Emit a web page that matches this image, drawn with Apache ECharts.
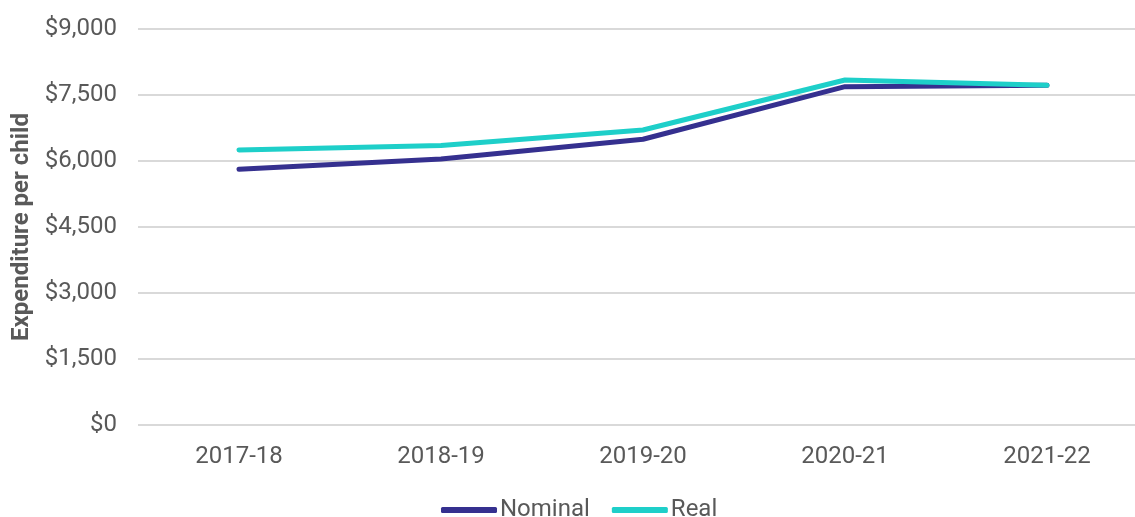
<!DOCTYPE html>
<html>
<head>
<meta charset="utf-8">
<script src="https://cdn.jsdelivr.net/npm/echarts@6/dist/echarts.min.js"></script>
<style>
  html, body { margin: 0; padding: 0; background: #fff; }
  #chart { width: 1135px; height: 517px; }
</style>
</head>
<body>
<div id="chart"></div>
<script>
// financial years on the x axis
const years = ['2017-18', '2018-19', '2019-20', '2020-21', '2021-22']
// expenditure per child
const nominal = [5810, 6045, 6495, 7690, 7720]
const real = [6250, 6350, 6705, 7840, 7720]

const chart = echarts.init(document.getElementById('chart'))

const fmt = v => '$' + v.toLocaleString('en-US')

chart.setOption({
  animation: false,
  textStyle: { fontFamily: 'Roboto' },
  grid: {
    left: 138,
    width: 1010,
    top: 29,
    bottom: 92,
    containLabel: false,
    outerBoundsMode: 'none'
  },
  legend: {
    top: 493,
    left: 436,
    itemWidth: 56,
    itemHeight: 6,
    itemGap: 22,
    icon: 'roundRect',
    textStyle: { color: '#595959', fontSize: 24, fontFamily: 'Roboto', padding: [0, 0, 0, -2] },
    data: ['Nominal', 'Real']
  },
  xAxis: {
    type: 'category',
    data: years,
    boundaryGap: true,
    axisLine: { show: false },
    axisTick: { show: false },
    axisLabel: { color: '#595959', fontSize: 24, margin: 20 }
  },
  yAxis: {
    type: 'value',
    min: 0,
    max: 9000,
    interval: 1500,
    name: 'Expenditure per child',
    nameLocation: 'middle',
    nameGap: 103,
    nameTextStyle: { color: '#595959', fontSize: 24, fontWeight: 'bold' },
    axisLine: { show: false },
    axisTick: { show: false },
    axisLabel: { color: '#595959', fontSize: 24, margin: 21, formatter: fmt },
    splitLine: { lineStyle: { color: '#d9d9d9', width: 2 } }
  },
  series: [
    {
      name: 'Nominal',
      type: 'line',
      data: nominal,
      symbol: 'none',
      color: '#35308f',
      lineStyle: { color: '#35308f', width: 5, cap: 'round', join: 'round' }
    },
    {
      name: 'Real',
      type: 'line',
      data: real,
      symbol: 'none',
      color: '#1ecfc9',
      lineStyle: { color: '#1ecfc9', width: 5, cap: 'round', join: 'round' }
    }
  ]
})
</script>
</body>
</html>
